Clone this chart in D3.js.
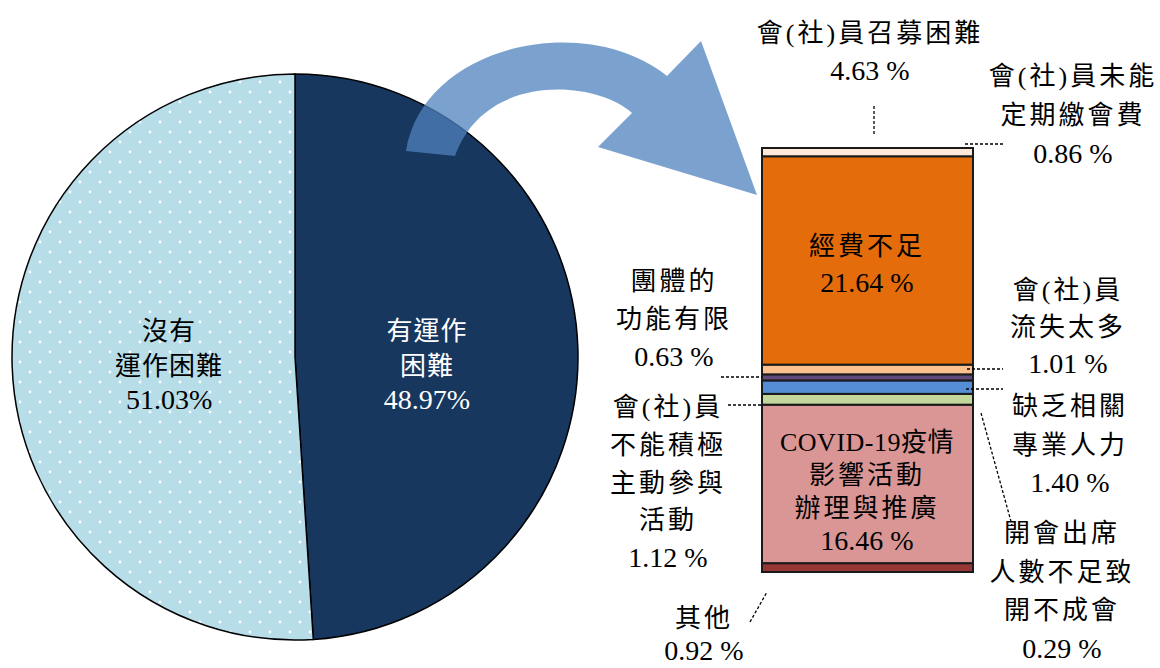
<!DOCTYPE html>
<html><head><meta charset="utf-8">
<script src="https://cdn.jsdelivr.net/npm/d3@7"></script>
<style>
html,body{margin:0;padding:0;background:#fff;}
svg{display:block;}
</style></head>
<body>
<script>
// ---- data ----
const pieNames = ["有運作\n困難", "沒有\n運作困難"];
const pieValues = [48.97, 51.03];

// stacked bar segments, bottom to top
const barNames = ["其他", "COVID-19疫情\n影響活動\n辦理與推廣", "會(社)員\n不能積極\n主動參與\n活動",
  "缺乏相關\n專業人力", "團體的\n功能有限", "會(社)員\n流失太多", "經費不足", "會(社)員未能\n定期繳會費"];
const barValues = [0.92, 16.46, 1.12, 1.40, 0.63, 1.01, 21.64, 0.86];
const barColors = ["#953735", "#d99694", "#c3d69b", "#558ed5", "#604a7b", "#fac090", "#e46c0a", "#fde9d9"];

// labelled but not drawn as bar segments in the reference
const extraNames = ["會(社)員召募困難", "開會出席\n人數不足致\n開不成會"];
const extraValues = [4.63, 0.29];

// ---- layout ----
const W = 1160, H = 668;
const svg = d3.select("body").append("svg").attr("width", W).attr("height", H);
const FONT = "'Liberation Serif','Noto Sans CJK TC',serif";

const defs = svg.append("defs");
const pat = defs.append("pattern").attr("id", "dots").attr("patternUnits", "userSpaceOnUse")
  .attr("width", 20).attr("height", 20);
pat.append("rect").attr("width", 20).attr("height", 20).attr("fill", "#b7dde8");
pat.append("circle").attr("cx", 5).attr("cy", 5).attr("r", 1.4).attr("fill", "#ffffff").attr("opacity", 0.95);
pat.append("circle").attr("cx", 15).attr("cy", 15).attr("r", 1.4).attr("fill", "#ffffff").attr("opacity", 0.95);

// pie
const cx = 295, cy = 357, R = 283;
const pie = d3.pie().sort(null).startAngle(0).endAngle(2 * Math.PI)(pieValues);
const arc = d3.arc().innerRadius(0).outerRadius(R);
const pg = svg.append("g").attr("transform", `translate(${cx},${cy})`);
const pieFills = ["#17375e", "url(#dots)"];
pg.selectAll("path").data(pie).join("path")
  .attr("d", arc).attr("fill", (d, i) => pieFills[i])
  .attr("stroke", "#000").attr("stroke-width", 1.5);

function multiText(g, x, y, lines, lh, opts) {
  const t = g.append("text").attr("x", x).attr("y", y)
    .attr("text-anchor", "middle").attr("font-family", FONT)
    .attr("fill", opts.fill || "#000");
  lines.forEach((ln, i) => {
    const isNum = /^[0-9.\s%]+$/.test(ln);
    const hasLatin = /[A-Za-z]/.test(ln);
    t.append("tspan").attr("x", x).attr("y", y + i * lh)
      .attr("font-size", isNum ? 28 : 26)
      .attr("letter-spacing", isNum ? 0 : hasLatin ? 0.5 : (opts.ls != null ? opts.ls : 3))
      .text(ln);
  });
  return t;
}

const pct1 = v => d3.format(".2f")(v) + "%";
const pct2 = v => d3.format(".2f")(v) + " %";

// pie labels
pie.forEach((d, i) => {
  const mid = (d.startAngle + d.endAngle) / 2;
  const x = cx + 132 * Math.sin(mid) + (i === 1 ? 6 : 0);
  const lines = pieNames[i].split("\n").concat([pct1(pieValues[i])]);
  multiText(svg, x, 340, lines, 34.5, {fill: i === 0 ? "#fff" : "#000", ls: 1});
});

// curved arrow
svg.append("path")
  .attr("d", "M406,151 C423,45 585,10 667,76 L701,41 L757,195 L598,147 L632,113 C595,80 485,72 455,156 Z")
  .attr("fill", "#4f81bd").attr("fill-opacity", 0.75);

// stacked bar
const barX0 = 762, barX1 = 973;
const total = d3.sum(barValues);
const y = d3.scaleLinear().domain([0, total]).range([572, 148]);
const cum = d3.cumsum(barValues);
const segs = barValues.map((v, i) => ({v, i, y0: cum[i] - v, y1: cum[i]}));
svg.append("g").selectAll("rect").data(segs).join("rect")
  .attr("x", barX0).attr("width", barX1 - barX0)
  .attr("y", d => y(d.y1)).attr("height", d => y(d.y0) - y(d.y1))
  .attr("fill", d => barColors[d.i]).attr("stroke", "#1a1a1a").attr("stroke-width", 2);

// leader lines
const leaders = [
  [874, 106, 874, 134],
  [965, 144, 1003, 144],
  [721, 377, 762, 377],
  [728, 405, 762, 405],
  [967, 369, 1003, 369],
  [966, 389, 1003, 389],
  [981, 413, 1012, 525],
  [750, 622, 767, 592]
];
svg.append("g").selectAll("line").data(leaders).join("line")
  .attr("x1", d => d[0]).attr("y1", d => d[1]).attr("x2", d => d[2]).attr("y2", d => d[3])
  .attr("stroke", "#000").attr("stroke-width", 1.3).attr("stroke-dasharray", "3,2");

// bar labels
const barLabelPos = [
  [704, 627, 33], [867, 451, 33], [668, 416, 37.8], [1070, 415, 38.5],
  [674, 290, 38], [1068, 299, 37], [867, 255, 37], [1073, 85, 39]
];
barNames.forEach((n, i) => {
  const p = barLabelPos[i];
  multiText(svg, p[0], p[1], n.split("\n").concat([pct2(barValues[i])]), p[2], {});
});
const extraPos = [[870, 42, 38], [1062, 542, 38.5]];
extraNames.forEach((n, i) => {
  const p = extraPos[i];
  multiText(svg, p[0], p[1], n.split("\n").concat([pct2(extraValues[i])]), p[2], {});
});
</script>
</body></html>
